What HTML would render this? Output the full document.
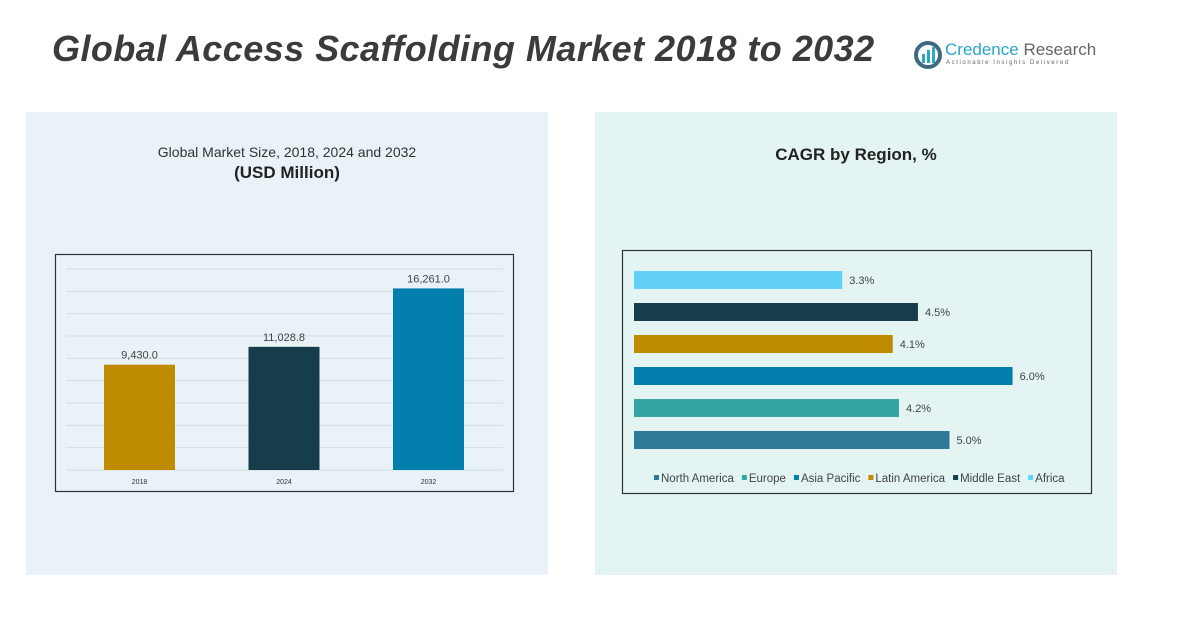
<!DOCTYPE html>
<html><head><meta charset="utf-8"><style>
body{margin:0;width:1187px;height:617px;background:#fff;font-family:"Liberation Sans",sans-serif;position:relative;overflow:hidden}
.abs{position:absolute}
</style></head><body>
<div class="abs" style="left:52px;top:28px;font-size:36px;font-weight:bold;font-style:italic;color:#3b3b3b;letter-spacing:0.45px">Global Access Scaffolding Market 2018 to 2032</div>
<div class="abs" style="left:913px;top:40px;width:190px;height:34px">
<svg width="30" height="30" style="position:absolute;left:0;top:0"><circle cx="15" cy="15" r="12" fill="none" stroke="#3d6a80" stroke-width="4"/><rect x="9" y="14" width="3" height="9" fill="#2aa6c9"/><rect x="14" y="10" width="3" height="13" fill="#2aa6c9"/><rect x="19" y="7" width="3" height="16" fill="#2aa6c9"/></svg>
<div class="abs" style="left:32px;top:0;font-size:17px;color:#2aa6c9;white-space:nowrap">Credence <span style="color:#666">Research</span></div>
<div class="abs" style="left:33px;top:20px;font-size:6px;color:#666;letter-spacing:1.6px;white-space:nowrap">Actionable Insights Delivered</div>
</div>
<div class="abs" style="left:26px;top:112px;width:522px;height:463px;background:#e8f2f7"></div>
<div class="abs" style="left:595px;top:112px;width:522px;height:463px;background:#e3f4f3"></div>
<div class="abs" style="left:26px;top:144px;width:522px;text-align:center;font-size:14px;color:#333">Global Market Size, 2018, 2024 and 2032</div>
<div class="abs" style="left:26px;top:163px;width:522px;text-align:center;font-size:17px;font-weight:bold;color:#222">(USD Million)</div>
<div class="abs" style="left:595px;top:145px;width:522px;text-align:center;font-size:17px;font-weight:bold;color:#222">CAGR by Region, %</div>
<svg class="abs" style="left:0;top:0" width="1187" height="617" id="svg"></svg>
<script>
const years=["2018","2024","2032"];
const sizes=[9430.0,11028.8,16261.0];
const sizeLabels=["9,430.0","11,028.8","16,261.0"];
const regions=["North America","Europe","Asia Pacific","Latin America","Middle East","Africa"];
const cagr=[5.0,4.2,6.0,4.1,4.5,3.3];
const regionColors=["#2e7898","#33a5a3","#037fad","#bf8b00","#173d4b","#63d0f7"];
const yearColors=["#bf8b00","#173d4b","#037fad"];
const NS="http://www.w3.org/2000/svg";
const svg=document.getElementById('svg');
function mk(t,a,p){const e=document.createElementNS(NS,t);for(const k in a)e.setAttribute(k,a[k]);(p||svg).appendChild(e);return e;}
let box=mk('rect',{x:55.5,y:254.5,width:458,height:237,fill:'none',stroke:'#333','stroke-width':1.2});

const y0=470,yMax=18000,ph=201;
const ys=v=>y0-v/yMax*ph;
for(let g=0;g<=yMax;g+=2000){const l=mk('line',{x1:66,x2:503,y1:ys(g),y2:ys(g),stroke:'#d5dde0','stroke-width':1});}
const xc=i=>139.5+i*144.5;
years.forEach((y,i)=>{
 const r=mk('rect',{x:xc(i)-35.5,y:ys(sizes[i]),width:71,height:y0-ys(sizes[i]),fill:yearColors[i]});
 
 const t=mk('text',{x:xc(i),y:ys(sizes[i])-6,'text-anchor':'middle','font-size':11,fill:'#444','font-family':'Liberation Sans'});t.textContent=sizeLabels[i];
 
 const a=mk('text',{x:xc(i),y:484,'text-anchor':'middle','font-size':7,fill:'#333','font-family':'Liberation Sans'});a.textContent=y;
 
});
let box2=mk('rect',{x:622.5,y:250.5,width:469,height:243,fill:'none',stroke:'#333','stroke-width':1.2});

const x0=634,pu=63.1;
regions.forEach((r,i)=>{
 const yy=431-i*32;
 const b=mk('rect',{x:x0,y:yy,width:cagr[i]*pu,height:18,fill:regionColors[i]});
 
 const t=mk('text',{x:x0+cagr[i]*pu+7,y:yy+13,'font-size':11,fill:'#444','font-family':'Liberation Sans'});t.textContent=cagr[i].toFixed(1)+'%';
 
});
let lx=654;
regions.forEach((r,i)=>{
 const s=mk('rect',{x:lx,y:475,width:5,height:5,fill:regionColors[i]});
 
 const t=mk('text',{x:lx+7,y:482,'font-size':11.5,fill:'#444','font-family':'Liberation Sans'});t.textContent=r;
 
 lx+=7+t.getComputedTextLength()+8;
});
</script>
</body></html>
